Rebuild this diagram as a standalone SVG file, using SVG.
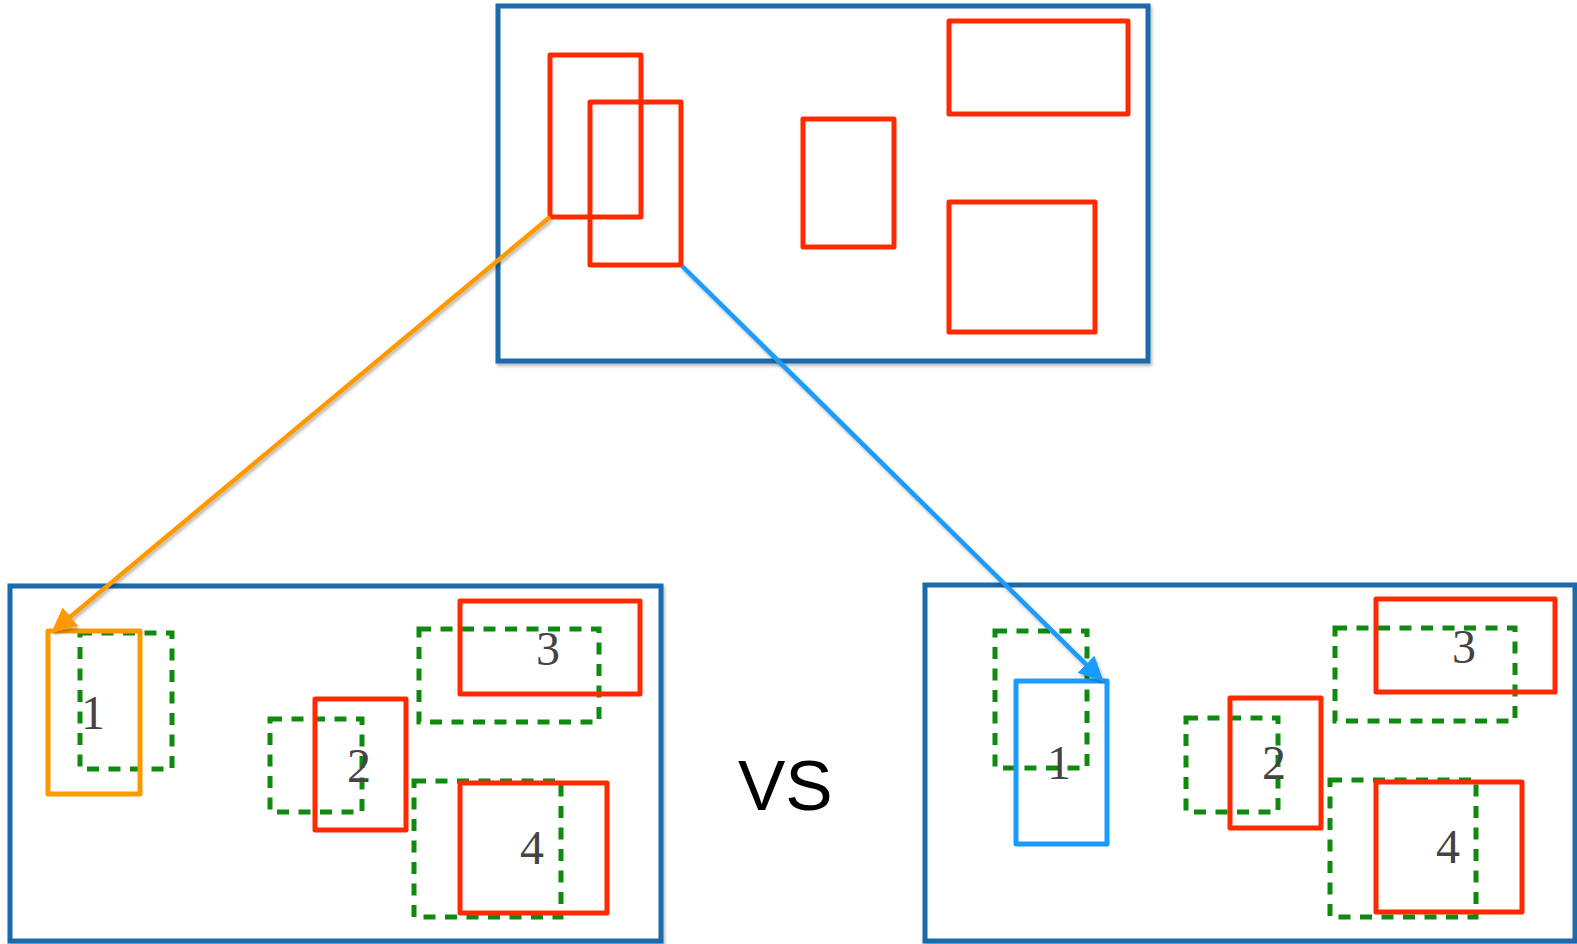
<svg xmlns="http://www.w3.org/2000/svg" width="1577" height="944" viewBox="0 0 1577 944">
  <defs>
    <filter id="shadow" x="-5%" y="-5%" width="110%" height="115%">
      <feDropShadow dx="1.5" dy="2.5" stdDeviation="1.8" flood-color="#000" flood-opacity="0.28"/>
    </filter>
    <marker id="head-orange" markerUnits="userSpaceOnUse" markerWidth="27" markerHeight="25" refX="16" refY="12" orient="auto">
      <path d="M0,0 L25,12 L0,24 z" fill="#ff9900"/>
    </marker>
    <marker id="head-blue" markerUnits="userSpaceOnUse" markerWidth="27" markerHeight="25" refX="16" refY="12" orient="auto">
      <path d="M0,0 L25,12 L0,24 z" fill="#1a9bff"/>
    </marker>
  </defs>
  <style>
    .frame { fill: #fff; stroke: #1a69ab; stroke-width: 5; filter: url(#shadow); }
    .box { fill: none; stroke: #ff2a00; stroke-width: 5; stroke-linejoin: round; }
    .cand { fill: none; stroke: #0e8a0e; stroke-width: 5; stroke-dasharray: 12 9.5; }
    .pick-orange { fill: none; stroke: #ff9900; stroke-width: 5; stroke-linejoin: round; }
    .pick-blue { fill: none; stroke: #1a9bff; stroke-width: 5; stroke-linejoin: round; }
    .num { font-family: "Liberation Serif", "Times New Roman", serif; font-size: 48px; fill: #444; text-anchor: middle; }
    .vs { font-family: "Liberation Sans", Arial, sans-serif; font-size: 71px; fill: #000; }
    .link { fill: none; stroke-width: 4.5; filter: url(#shadow); }
  </style>

  <!-- source image with detected boxes -->
  <g id="source">
    <rect class="frame" x="498" y="6" width="650" height="355"/>
    <rect class="box" x="550" y="55" width="91" height="162"/>
    <rect class="box" x="590" y="102" width="91" height="163"/>
    <rect class="box" x="803" y="119" width="91" height="128"/>
    <rect class="box" x="949" y="21" width="179" height="93"/>
    <rect class="box" x="949" y="202" width="146" height="130"/>
  </g>

  <!-- left result: first box matched -->
  <g id="result-left">
    <rect class="frame" x="10" y="586" width="651" height="355"/>
    <rect class="cand" x="80" y="633" width="92" height="136"/>
    <rect class="cand" x="270" y="719" width="92" height="93"/>
    <rect class="cand" x="419" y="629" width="180" height="93"/>
    <rect class="cand" x="414" y="781" width="147" height="136"/>
    <rect class="pick-orange" x="48" y="631" width="92" height="163"/>
    <rect class="box" x="315" y="699" width="91" height="131"/>
    <rect class="box" x="460" y="601" width="180" height="93"/>
    <rect class="box" x="460" y="783" width="147" height="130"/>
    <text class="num" x="93" y="729">1</text>
    <text class="num" x="359" y="782">2</text>
    <text class="num" x="548" y="665">3</text>
    <text class="num" x="532" y="864">4</text>
  </g>

  <g id="versus">
    <text class="vs" x="738" y="810">VS</text>
  </g>

  <!-- right result: second box matched -->
  <g id="result-right">
    <rect class="frame" x="925" y="585" width="650" height="356"/>
    <rect class="cand" x="995" y="631" width="92" height="137"/>
    <rect class="cand" x="1186" y="718" width="92" height="94"/>
    <rect class="cand" x="1335" y="628" width="180" height="93"/>
    <rect class="cand" x="1330" y="780" width="146" height="137"/>
    <rect class="pick-blue" x="1016" y="681" width="91" height="163"/>
    <rect class="box" x="1230" y="698" width="91" height="130"/>
    <rect class="box" x="1376" y="599" width="179" height="93"/>
    <rect class="box" x="1376" y="782" width="146" height="130"/>
    <text class="num" x="1059" y="779">1</text>
    <text class="num" x="1274" y="779">2</text>
    <text class="num" x="1464" y="663">3</text>
    <text class="num" x="1448" y="863">4</text>
  </g>

  <g id="connectors">
    <line class="link" x1="550" y1="217" x2="58.1" y2="626.9" stroke="#ff9900" marker-end="url(#head-orange)"/>
    <line class="link" x1="682" y1="266" x2="1097.3" y2="675.4" stroke="#1a9bff" marker-end="url(#head-blue)"/>
  </g>
</svg>
